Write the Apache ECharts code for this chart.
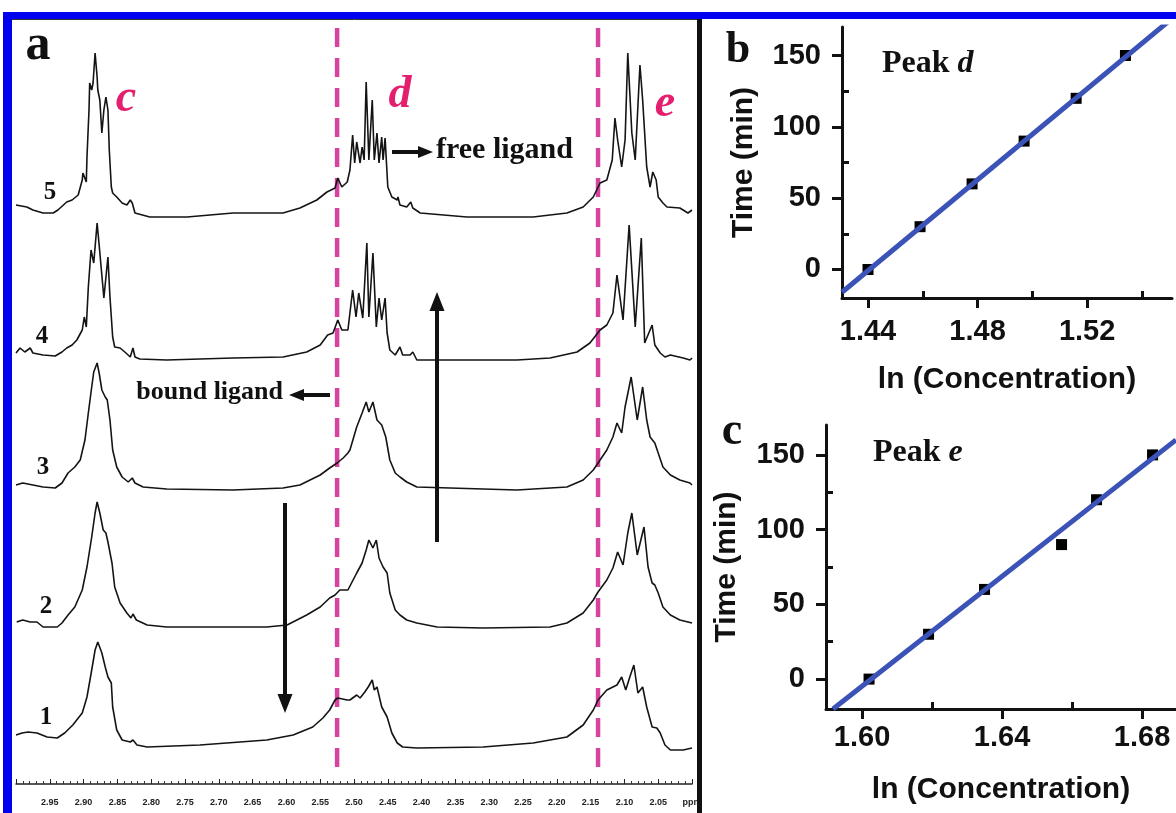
<!DOCTYPE html>
<html>
<head>
<meta charset="utf-8">
<script src="https://cdn.jsdelivr.net/npm/echarts/dist/echarts.min.js"></script>
<style>
html,body{margin:0;padding:0;background:#fff;}
#main{width:1176px;height:813px;}
</style>
</head>
<body>
<div id="main"></div>
<script>
// ---------- Panel a: stacked 1H NMR traces, [ppm, intensity above the trace's own baseline] ----------
const spec1 = [[3.000,12],[2.991,14],[2.982,15],[2.969,14],[2.954,10],[2.939,9],[2.928,14],[2.916,22],[2.902,34],[2.895,50],[2.888,77],[2.883,97],[2.879,105],[2.873,94],[2.868,80],[2.864,70],[2.859,64],[2.857,40],[2.851,17],[2.843,7],[2.831,5],[2.827,7],[2.821,2],[2.806,0],[2.728,2],[2.629,7],[2.590,12],[2.561,20],[2.546,29],[2.536,37],[2.528,47],[2.524,49],[2.510,47],[2.506,47],[2.496,52],[2.491,49],[2.484,55],[2.479,60],[2.473,67],[2.470,57],[2.466,60],[2.459,40],[2.451,30],[2.444,14],[2.436,4],[2.428,0],[2.407,-1],[2.309,0],[2.235,4],[2.185,10],[2.161,22],[2.146,37],[2.139,47],[2.126,57],[2.111,62],[2.104,70],[2.098,57],[2.092,70],[2.086,82],[2.080,54],[2.073,60],[2.067,40],[2.059,20],[2.052,19],[2.047,14],[2.040,2],[2.032,-3],[2.013,-3],[2.000,-1]];
const spec2 = [[2.999,5],[2.990,7],[2.979,5],[2.969,5],[2.960,0],[2.939,0],[2.932,4],[2.923,12],[2.913,20],[2.902,37],[2.895,60],[2.888,90],[2.883,114],[2.880,125],[2.876,114],[2.871,97],[2.867,94],[2.864,85],[2.858,64],[2.854,40],[2.846,24],[2.836,14],[2.830,9],[2.827,13],[2.822,7],[2.806,2],[2.777,0],[2.679,0],[2.629,0],[2.599,2],[2.570,12],[2.550,20],[2.536,29],[2.528,32],[2.521,37],[2.509,37],[2.496,54],[2.488,64],[2.482,77],[2.478,87],[2.472,79],[2.467,87],[2.463,69],[2.457,60],[2.451,54],[2.447,34],[2.439,17],[2.432,12],[2.422,7],[2.407,4],[2.377,0],[2.309,-1],[2.210,0],[2.185,4],[2.161,14],[2.146,27],[2.139,35],[2.126,47],[2.117,59],[2.110,75],[2.102,62],[2.095,94],[2.089,114],[2.081,72],[2.071,100],[2.065,60],[2.059,44],[2.055,42],[2.050,34],[2.043,20],[2.032,12],[2.018,7],[2.000,4]];
const spec3 = [[3.000,3],[2.990,5],[2.975,3],[2.960,1],[2.942,0],[2.932,5],[2.923,15],[2.913,21],[2.905,28],[2.898,48],[2.893,75],[2.888,101],[2.885,116],[2.880,125],[2.877,115],[2.873,98],[2.868,91],[2.865,88],[2.861,68],[2.857,38],[2.851,21],[2.843,11],[2.834,6],[2.828,10],[2.824,5],[2.812,1],[2.777,-1],[2.679,-2],[2.605,0],[2.580,3],[2.550,13],[2.536,20],[2.525,25],[2.516,30],[2.509,35],[2.506,38],[2.496,61],[2.488,75],[2.482,86],[2.478,76],[2.472,86],[2.466,68],[2.459,63],[2.453,51],[2.447,28],[2.439,15],[2.432,11],[2.422,6],[2.407,1],[2.358,0],[2.259,-2],[2.185,1],[2.161,8],[2.146,18],[2.139,25],[2.126,38],[2.117,51],[2.111,65],[2.104,55],[2.099,81],[2.090,111],[2.081,68],[2.073,101],[2.067,68],[2.062,51],[2.055,45],[2.050,35],[2.043,21],[2.032,13],[2.018,8],[2.003,5],[2.000,3]];
const spec4 = [[3.000,5],[2.994,10],[2.987,6],[2.979,10],[2.975,5],[2.960,3],[2.942,2],[2.932,6],[2.925,10],[2.917,13],[2.910,18],[2.902,28],[2.899,41],[2.896,31],[2.893,71],[2.889,108],[2.885,95],[2.880,135],[2.877,113],[2.870,60],[2.864,101],[2.861,61],[2.857,21],[2.854,11],[2.846,10],[2.839,6],[2.831,1],[2.827,10],[2.824,1],[2.817,-1],[2.777,-2],[2.679,0],[2.605,1],[2.570,6],[2.550,13],[2.539,23],[2.531,25],[2.524,38],[2.518,28],[2.509,28],[2.502,68],[2.497,41],[2.493,65],[2.487,40],[2.481,115],[2.478,41],[2.472,105],[2.467,31],[2.463,60],[2.459,38],[2.454,60],[2.451,25],[2.447,8],[2.439,3],[2.432,11],[2.428,3],[2.417,3],[2.413,6],[2.407,-2],[2.358,-2],[2.259,-2],[2.210,0],[2.170,6],[2.151,15],[2.136,28],[2.126,33],[2.117,45],[2.111,83],[2.102,38],[2.093,133],[2.084,31],[2.075,120],[2.070,15],[2.059,33],[2.055,13],[2.047,5],[2.040,1],[2.032,3],[2.013,0],[2.003,-2],[2.000,0]];
const spec5 = [[3.000,11],[2.984,9],[2.975,6],[2.960,3],[2.945,3],[2.938,6],[2.925,14],[2.917,16],[2.908,21],[2.902,36],[2.901,43],[2.896,34],[2.895,59],[2.892,106],[2.891,133],[2.888,126],[2.886,133],[2.883,163],[2.880,139],[2.879,126],[2.876,116],[2.873,83],[2.870,106],[2.867,119],[2.864,106],[2.862,66],[2.859,29],[2.857,23],[2.851,19],[2.843,13],[2.836,11],[2.831,16],[2.828,13],[2.824,3],[2.802,-1],[2.747,-1],[2.679,3],[2.605,3],[2.580,8],[2.555,16],[2.540,24],[2.528,28],[2.524,38],[2.518,29],[2.510,34],[2.506,46],[2.502,81],[2.499,53],[2.496,74],[2.491,53],[2.488,69],[2.485,56],[2.482,134],[2.478,56],[2.473,116],[2.470,56],[2.466,83],[2.463,53],[2.459,79],[2.457,56],[2.454,78],[2.450,29],[2.444,19],[2.436,16],[2.435,19],[2.432,11],[2.422,9],[2.416,14],[2.413,8],[2.402,3],[2.333,-1],[2.235,-1],[2.185,3],[2.161,9],[2.146,19],[2.136,33],[2.126,36],[2.118,56],[2.114,98],[2.110,76],[2.104,49],[2.099,76],[2.095,163],[2.089,83],[2.084,56],[2.077,151],[2.073,116],[2.067,49],[2.062,29],[2.058,44],[2.053,36],[2.050,19],[2.043,13],[2.037,9],[2.018,8],[2.006,3],[2.000,6]];
const spectra = [spec1, spec2, spec3, spec4, spec5];
const traceOffsets = [37, 157, 296, 426, 568];      // stacking offset of traces 1..5
const traceNames = ['1', '2', '3', '4', '5'];
const markerPpm = [2.525, 2.139];                    // dashed guide lines (ppm)
const markerSpan = [16, 756];                        // vertical extent of guides on the stacked axis
const peakNames = ['c', 'd', 'e'];

// ---------- Panel b: Peak d ----------
const lnConcD = [1.440, 1.459, 1.478, 1.497, 1.516, 1.534];
const timeD   = [0, 30, 60, 90, 120, 150];
const fitD    = [[1.4305, -16], [1.551, 176]];
const ticksBx = [1.44, 1.48, 1.52], minorBx = [1.46, 1.50, 1.54];

// ---------- Panel c: Peak e ----------
const lnConcE = [1.602, 1.619, 1.635, 1.657, 1.667, 1.683];
const timeE   = [0, 30, 60, 90, 120, 150];
const fitE    = [[1.5917, -20], [1.6897, 160]];
const ticksCx = [1.60, 1.64, 1.68], minorCx = [1.62, 1.66];

const ticksY = [0, 50, 100, 150], minorTicksY = [25, 75, 125];

// ---------- styling ----------
const SERIF = "'Liberation Serif','DejaVu Serif',serif";
const SANS = "'Liberation Sans','Arial',sans-serif";
const INK = '#111111';
const PINK = '#e4206e';
const GUIDE = '#d6449f';
const FITBLUE = '#3b52b6';

function majorXAxis(grid, min, max, ticks, name, labelMargin, nameGap) {
  return {
    gridIndex: grid, type: 'value', min: min, max: max, position: 'bottom',
    axisLine: {onZero: false, lineStyle: {color: INK, width: 3}},
    axisTick: {customValues: ticks, length: 10, lineStyle: {color: INK, width: 3}},
    axisLabel: {customValues: ticks, formatter: v => v.toFixed(2), margin: labelMargin,
      fontFamily: SANS, fontWeight: 'bold', fontSize: 29, color: INK},
    splitLine: {show: false},
    name: name, nameLocation: 'middle', nameGap: nameGap,
    nameTextStyle: {fontFamily: SANS, fontWeight: 'bold', fontSize: 30, color: INK}
  };
}
function minorXAxis(grid, min, max, ticks) {
  return {
    gridIndex: grid, type: 'value', min: min, max: max, position: 'bottom',
    axisLine: {show: false, onZero: false},
    axisTick: {inside: true, customValues: ticks, length: 7, lineStyle: {color: INK, width: 3}},
    axisLabel: {show: false}, splitLine: {show: false}
  };
}
function majorYAxis(grid, nameGap) {
  return {
    gridIndex: grid, type: 'value', min: -20, max: 170, position: 'left',
    axisLine: {show: true, onZero: false, lineStyle: {color: INK, width: 3}},
    axisTick: {show: true, customValues: ticksY, length: 10, lineStyle: {color: INK, width: 3}},
    axisLabel: {customValues: ticksY, margin: 21, fontFamily: SANS, fontWeight: 'bold', fontSize: 29, color: INK},
    splitLine: {show: false},
    name: 'Time (min)', nameLocation: 'middle', nameGap: nameGap, nameRotate: 90,
    nameTextStyle: {fontFamily: SANS, fontWeight: 'bold', fontSize: 30, color: INK}
  };
}
function minorYAxis(grid) {
  return {
    gridIndex: grid, type: 'value', min: -20, max: 170, position: 'left',
    axisLine: {show: false, onZero: false},
    axisTick: {show: true, inside: true, customValues: minorTicksY, length: 7, lineStyle: {color: INK, width: 3}},
    axisLabel: {show: false}, splitLine: {show: false}
  };
}

const series = [];
spectra.forEach((s, i) => {
  series.push({
    type: 'line', xAxisIndex: 0, yAxisIndex: 0, name: 'trace ' + traceNames[i],
    data: s.map(p => [p[0], p[1] + traceOffsets[i]]),
    showSymbol: false, symbol: 'none', silent: true,
    lineStyle: {color: '#141414', width: 1.6}
  });
});
markerPpm.forEach(p => {
  series.push({
    type: 'line', xAxisIndex: 0, yAxisIndex: 0, symbol: 'none', silent: true,
    data: [[p, markerSpan[1]], [p, markerSpan[0]]],
    lineStyle: {color: GUIDE, width: 4.5, type: [19, 11]}, z: 1
  });
});
series.push({type: 'line', xAxisIndex: 1, yAxisIndex: 1, data: fitD, symbol: 'none', clip: true,
  lineStyle: {color: FITBLUE, width: 5}, z: 4});
series.push({type: 'scatter', xAxisIndex: 1, yAxisIndex: 1, data: lnConcD.map((x, i) => [x, timeD[i]]),
  symbol: 'rect', symbolSize: 11, itemStyle: {color: '#000', opacity: 1}, z: 3});
series.push({type: 'line', xAxisIndex: 3, yAxisIndex: 3, data: fitE, symbol: 'none', clip: true,
  lineStyle: {color: FITBLUE, width: 5}, z: 4});
series.push({type: 'scatter', xAxisIndex: 3, yAxisIndex: 3, data: lnConcE.map((x, i) => [x, timeE[i]]),
  symbol: 'rect', symbolSize: 11, itemStyle: {color: '#000', opacity: 1}, z: 3});

function txt(t, x, y, size, opts) {
  opts = opts || {};
  return {type: 'text', x: x, y: y, z: 50, silent: true,
    style: {text: t, fontFamily: opts.family || SERIF, fontSize: size, fontWeight: opts.weight || 'bold',
      fontStyle: opts.style || 'normal', fill: opts.color || INK,
      align: opts.align || 'center', verticalAlign: 'middle'}};
}
function arrow(x1, y1, x2, y2, head) {
  const dx = x2 - x1, dy = y2 - y1, L = Math.hypot(dx, dy), ux = dx / L, uy = dy / L;
  const bx = x2 - ux * head.len, by = y2 - uy * head.len, w = head.w / 2;
  return [
    {type: 'line', z: 50, silent: true, shape: {x1: x1, y1: y1, x2: bx, y2: by}, style: {stroke: INK, lineWidth: 4}},
    {type: 'polygon', z: 50, silent: true, shape: {points: [[x2, y2], [bx - uy * w, by + ux * w], [bx + uy * w, by - ux * w]]}, style: {fill: INK}}
  ];
}

const graphic = [
  // figure frame
  {type: 'rect', z: 100, silent: true, shape: {x: 3, y: 12, width: 1173, height: 7}, style: {fill: '#0000f0'}},
  {type: 'rect', z: 100, silent: true, shape: {x: 3, y: 12, width: 9, height: 801}, style: {fill: '#0000f0'}},
  {type: 'rect', z: 100, silent: true, shape: {x: 697, y: 19, width: 5, height: 794}, style: {fill: '#111'}},
  {type: 'line', z: 100, silent: true, shape: {x1: 12, y1: 19.5, x2: 697, y2: 19.5}, style: {stroke: '#333', lineWidth: 1}},
  // panel letters
  txt('a', 38, 46, 50),
  txt('b', 738, 51, 44),
  txt('c', 732, 432, 46),
  // peak labels
  txt(peakNames[0], 126, 99, 46, {style: 'italic', color: PINK}),
  txt(peakNames[1], 400, 95, 46, {style: 'italic', color: PINK}),
  txt(peakNames[2], 665, 104, 46, {style: 'italic', color: PINK}),
  // trace numbers
  txt(traceNames[4], 50, 193, 25),
  txt(traceNames[3], 42, 337, 25),
  txt(traceNames[2], 43, 468, 25),
  txt(traceNames[1], 46, 607, 25),
  txt(traceNames[0], 46, 718, 25),
  // annotations
  txt('free ligand', 436, 150, 30, {align: 'left'}),
  txt('bound ligand', 283, 392, 26, {align: 'right'}),
  {type: 'text', x: 882, y: 64, z: 50, silent: true, style: {text: '{n|Peak }{i|d}', verticalAlign: 'middle', align: 'left',
    rich: {n: {fontFamily: SERIF, fontWeight: 'bold', fontSize: 32, fill: INK}, i: {fontFamily: SERIF, fontWeight: 'bold', fontStyle: 'italic', fontSize: 32, fill: INK}}}},
  {type: 'text', x: 873, y: 453, z: 50, silent: true, style: {text: '{n|Peak }{i|e}', verticalAlign: 'middle', align: 'left',
    rich: {n: {fontFamily: SERIF, fontWeight: 'bold', fontSize: 32, fill: INK}, i: {fontFamily: SERIF, fontWeight: 'bold', fontStyle: 'italic', fontSize: 32, fill: INK}}}}
]
  .concat(arrow(392, 152, 433, 152, {len: 15, w: 12}))
  .concat(arrow(330, 395, 289, 395, {len: 15, w: 12}))
  .concat(arrow(285, 503, 285, 713, {len: 19, w: 15}))
  .concat(arrow(437, 542, 437, 292, {len: 19, w: 15}));

const option = {
  animation: false,
  backgroundColor: '#ffffff',
  grid: [
    {left: 16, right: 484, top: 19, bottom: 29},
    {left: 842, right: 4, top: 27, bottom: 515},
    {left: 826, right: 0, top: 425, bottom: 104}
  ],
  xAxis: [
    {
      gridIndex: 0, type: 'value', min: 2.0, max: 3.0, interval: 0.05, inverse: true,
      axisLine: {onZero: false, lineStyle: {color: '#222', width: 1.5}},
      axisTick: {inside: true, length: 5, lineStyle: {color: '#222', width: 1}},
      minorTick: {show: true, splitNumber: 5, length: 3, lineStyle: {color: '#333', width: 1}},
      axisLabel: {
        margin: 14, fontFamily: SANS, fontWeight: 'bold', fontSize: 9, color: '#222',
        showMinLabel: true, showMaxLabel: true,
        formatter: v => Math.abs(v - 3) < 1e-6 ? '' : (Math.abs(v - 2) < 1e-6 ? 'ppm' : v.toFixed(2))
      },
      splitLine: {show: false}
    },
    majorXAxis(1, 1.4305, 1.551, ticksBx, 'ln (Concentration)', 19, 67),
    minorXAxis(1, 1.4305, 1.551, minorBx),
    majorXAxis(2, 1.5897, 1.6897, ticksCx, 'ln (Concentration)', 14, 66),
    minorXAxis(2, 1.5897, 1.6897, minorCx)
  ],
  yAxis: [
    {gridIndex: 0, type: 'value', min: 0, max: 765, show: false},
    majorYAxis(1, 83),
    minorYAxis(1),
    majorYAxis(2, 84),
    minorYAxis(2)
  ],
  series: series,
  graphic: graphic
};

const chart = echarts.init(document.getElementById('main'));
chart.setOption(option);
</script>
</body>
</html>
